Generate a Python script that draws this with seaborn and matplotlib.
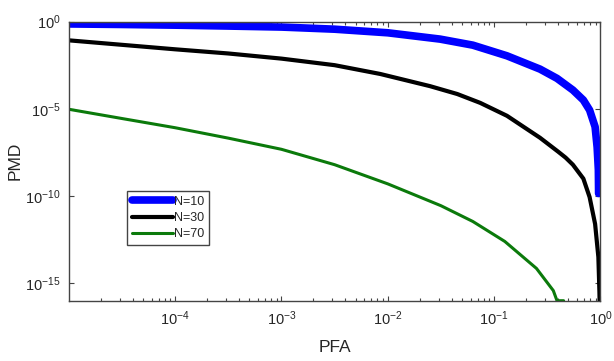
import numpy as np
import pandas as pd
import seaborn as sns
import matplotlib.pyplot as plt
from matplotlib.ticker import LogLocator, NullLocator

sns.set_style('white')
plt.rcParams['font.family'] = ['Liberation Sans', 'DejaVu Sans']
plt.rcParams['mathtext.fontset'] = 'custom'
plt.rcParams['mathtext.rm'] = 'Liberation Sans'

# curves (PFA, PMD)
pfa_n10 = [1e-5, 3.16e-5, 1e-4, 3.16e-4, 1e-3, 3.16e-3, 1e-2, 3.1e-2,
           6.3e-2, 1.32e-1, 2.7e-1, 3.9e-1, 5.5e-1, 6.9e-1, 7.9e-1, 8.9e-1,
           9.3e-1, 9.55e-1, 9.6e-1]
pmd_n10 = [7.4e-1, 6.9e-1, 6.3e-1, 5.6e-1, 4.9e-1, 3.7e-1, 2.3e-1, 1.0e-1,
           4.5e-2, 1.1e-2, 1.9e-3, 5.6e-4, 1.2e-4, 3.2e-5, 8.5e-6, 9.3e-7,
           6.3e-8, 3.2e-9, 1.4e-10]

pfa_n30 = [1e-5, 3.16e-5, 1e-4, 3.16e-4, 1e-3, 3.16e-3, 8.5e-3, 2.5e-2,
           4.5e-2, 7.4e-2, 1.32e-1, 2.7e-1, 4.0e-1, 4.7e-1, 5.5e-1, 6.9e-1,
           7.9e-1, 8.9e-1, 9.55e-1, 9.77e-1, 9.89e-1]
pmd_n30 = [8.5e-2, 4.7e-2, 2.6e-2, 1.5e-2, 7.6e-3, 3.2e-3, 1.0e-3, 2.0e-4,
           7.1e-5, 2.2e-5, 4.0e-6, 2.2e-7, 3.5e-8, 1.6e-8, 6.3e-9, 1.0e-9,
           8.7e-11, 2.5e-12, 3.2e-14, 3.2e-16, 1.0e-17]

pfa_n70 = [1e-5, 3.16e-5, 1e-4, 3.16e-4, 1e-3, 3.16e-3, 1e-2, 3.16e-2,
           6.3e-2, 1.26e-1, 2.5e-1, 3.6e-1, 3.9e-1, 4.5e-1]
pmd_n70 = [9.5e-6, 2.8e-6, 8.3e-7, 2.1e-7, 4.8e-8, 6.3e-9, 5.0e-10, 2.8e-11,
           3.5e-12, 2.5e-13, 7.1e-15, 3.8e-16, 1.0e-16, 1.0e-16]

series = [('N=10', pfa_n10, pmd_n10, '#0000ff', 5.5),
          ('N=30', pfa_n30, pmd_n30, '#000000', 3.0),
          ('N=70', pfa_n70, pmd_n70, '#0b7a0b', 2.2)]

fig = plt.figure(figsize=(6.14, 3.61), dpi=100)
ax = fig.add_axes([0.112, 0.167, 0.866, 0.773])

for name, x, y, c, lw in series:
    d = pd.DataFrame({'PFA': x, 'PMD': y})
    sns.lineplot(data=d, x='PFA', y='PMD', ax=ax, color=c, linewidth=lw,
                 label=name, estimator=None, sort=False)

ax.set_xscale('log')
ax.set_yscale('log')
ax.set_xlim(1e-5, 1)
ax.set_ylim(1e-16, 1)
ax.set_xticks([1e-4, 1e-3, 1e-2, 1e-1, 1])
ax.xaxis.set_minor_locator(LogLocator(base=10, subs=np.arange(2, 10), numticks=20))
ax.set_yticks([1e-15, 1e-10, 1e-5, 1])
ax.yaxis.set_minor_locator(NullLocator())

for s in ax.spines.values():
    s.set_color('#444444')
    s.set_linewidth(1.0)
ax.tick_params(which='both', direction='in', bottom=True, left=True,
               top=True, right=True, color='#444444', labelsize=10.5)
ax.tick_params(which='major', length=3.5, width=0.8, pad=6)
ax.tick_params(which='minor', length=2.5, width=0.8)

ax.set_xlabel('PFA', fontsize=12.5, labelpad=9)
ax.set_ylabel('PMD', fontsize=12.5, labelpad=2)

leg = ax.legend(loc='upper left', bbox_to_anchor=(0.11, 0.392), borderaxespad=0,
                fontsize=9, handlelength=3.3, handletextpad=0.1,
                labelspacing=0.35, borderpad=0.35, fancybox=False, framealpha=1)
leg.get_frame().set_edgecolor('#444444')
leg.get_frame().set_linewidth(1.0)

fig.savefig('out.png', dpi=100)
